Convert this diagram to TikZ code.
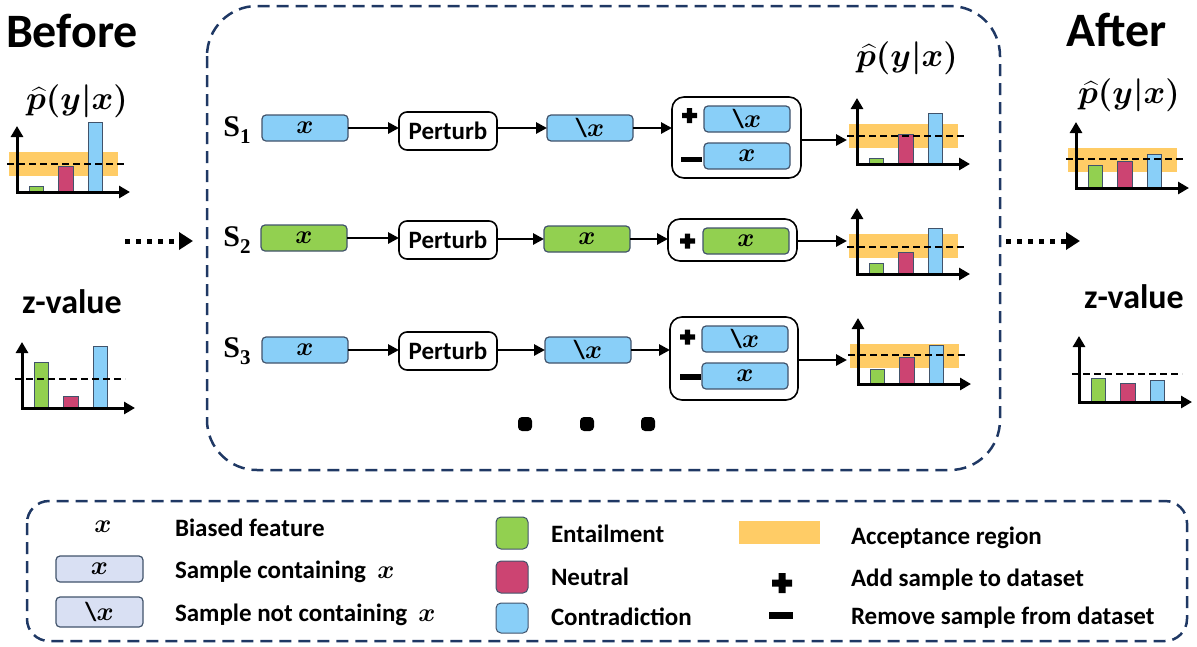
\RequirePackage{fix-cm}
\documentclass[tikz,border=0pt]{standalone}
\usepackage{amsmath}
\usepackage{bm}
\usepackage{fontspec}
\setmainfont{Carlito}
\newfontfamily\serifb{Liberation Serif}
\usetikzlibrary{arrows.meta}
\definecolor{cgreen}{HTML}{92D050}
\definecolor{cred}{HTML}{CC4472}
\definecolor{cblue}{HTML}{89CFF8}
\definecolor{corange}{HTML}{FFCC66}
\definecolor{navy}{HTML}{1F3864}
\definecolor{lav}{HTML}{D9E0F3}
\definecolor{bord}{HTML}{41536B}
\newcommand\phat{$\bm{\widehat{p}(y\vert x)}$}
\newcommand\bx{$\bm{x}$}
\newcommand\nbx{{\bfseries\textbackslash}$\bm{x}$}
\newcommand\sub[1]{{\serifb\bfseries S\raisebox{-0.22em}{\fontsize{21}{22}\selectfont #1}}}
\tikzset{
 every node/.style={inner sep=0pt, outer sep=0pt},
 txt/.style={font=\bfseries\fontsize{25}{30}\selectfont, anchor=base west},
 samp/.style={draw=bord, line width=1.2pt, rounded corners=4pt, minimum width=86pt, minimum height=26pt, font=\fontsize{26}{28}\selectfont},
 pert/.style={draw=black, line width=1.6pt, rounded corners=8pt, minimum width=98pt, minimum height=38pt, font=\bfseries\fontsize{25}{30}\selectfont},
 outerbox/.style={draw=black, line width=1.6pt, rounded corners=12pt},
 conn/.style={line width=2.8pt, -{Triangle[length=11pt,width=11pt]}},
 dotarrow/.style={line width=5pt, dash pattern=on 5pt off 6pt, -{Triangle[length=14pt,width=17pt]}},
 axis/.style={line width=3pt, {Triangle[length=11pt,width=12pt]}-{Triangle[length=11pt,width=12pt]}, line join=miter},
 dline/.style={line width=2.6pt, dash pattern=on 7pt off 4pt},
 bar/.style={draw=bord, line width=1pt},
 band/.style={fill=corange},
 frame/.style={draw=navy, line width=2.5pt, dash pattern=on 12pt off 7pt},
 slabel/.style={font=\fontsize{30}{34}\selectfont},
 plabel/.style={font=\fontsize{33}{36}\selectfont},
}
\newcommand\mychart[7]{%
 \begin{scope}[shift={(#1,#2)}]
  \ifnum#7=1 \fill[band] (-8,-16) rectangle (101,-40);\fi
  \draw[bar,fill=cgreen] (12,0) rectangle (26,-#3);
  \draw[bar,fill=cred] (41,0) rectangle (56,-#4);
  \draw[bar,fill=cblue] (71,0) rectangle (85,-#5);
  \ifnum#7=1 \draw[dline] (-10,-#6) -- (110,-#6);\else \draw[dline] (-7,-#6) -- (103,-#6);\fi
  \draw[axis] (0,-66) -- (0,0) -- (113,0);
 \end{scope}}
\newcommand\plussign[4]{\fill[shift={(#1,#2)}] (-#3,-#4) rectangle (#3,#4) (-#4,-#3) rectangle (#4,#3);}
\newcommand\minussign[4]{\fill[shift={(#1,#2)}] (-#3,-#4) rectangle (#3,#4);}
\begin{document}
\begin{tikzpicture}[x=1pt,y=-1pt]
\useasboundingbox (0,0) rectangle (1197,646);
% frames
\draw[frame, rounded corners=50pt] (207,6) rectangle (1000,470);
\draw[frame, rounded corners=22pt] (27,501) rectangle (1187,641);
% titles
\node[font=\bfseries\fontsize{48}{50}\selectfont, anchor=base west] (before) at (6,47) {Before};
\node[font=\bfseries\fontsize{48}{50}\selectfont, anchor=base west] (after) at (1066,46) {After};
\node[font=\bfseries\fontsize{34}{36}\selectfont, anchor=base west] (zl) at (22,313) {z-value};
\node[font=\bfseries\fontsize{34}{36}\selectfont, anchor=base west] (zr) at (1084,308) {z-value};
\node[plabel] (pl) at (77,101) {\phat};
\node[plabel] (pm) at (907,58) {\phat};
\node[plabel] (pr) at (1129,95) {\phat};
% charts
\mychart{17}{192}{6}{26}{70}{28}{1}
\mychart{857}{164}{6}{30}{51}{28}{1}
\mychart{857}{274}{11}{22}{46}{27}{1}
\mychart{858}{384}{15}{27}{39}{29}{1}
\mychart{1076}{188}{23}{27}{34}{29}{1}
\mychart{22}{408}{46}{12}{62}{29}{0}
\mychart{1079}{402}{24}{19}{22}{28}{0}
% dotted arrows
\coordinate (d1s) at (125,241);
\coordinate (d1e) at (193,241);
\coordinate (d2s) at (1006,241);
\coordinate (d2e) at (1080,241);
\draw[dotarrow] (d1s) -- (d1e);
\draw[dotarrow] (d2s) -- (d2e);
% row 1
\node[slabel] (s1) at (237,130) {\sub{1}};
\node[samp, fill=cblue] (x1) at (305,128) {\bx};
\node[pert] (p1) at (448,131) {Perturb};
\node[samp, fill=cblue] (n1) at (590,128) {\nbx};
\node[outerbox, minimum width=129pt, minimum height=81pt] (o1) at (736.5,137.5) {};
\node[samp, fill=cblue] (a1) at (747,119) {\nbx};
\node[samp, fill=cblue] (b1) at (747,156) {\bx};
\plussign{689.5}{115.5}{7.5}{2.7}
\minussign{691.5}{159.5}{10.5}{2.7}
\coordinate (c1) at (847,140);
\draw[conn] (x1.east) -- (x1.east -| p1.west);
\draw[conn] (p1.east |- n1) -- (n1.west);
\draw[conn] (n1.east) -- (n1.east -| o1.west);
\draw[conn] (o1.east |- c1) -- (c1);
% row 2
\node[slabel] (s2) at (237,240) {\sub{2}};
\node[samp, fill=cgreen] (x2) at (304,238) {\bx};
\node[pert] (p2) at (448,240) {Perturb};
\node[samp, fill=cgreen] (n2) at (587,239) {\bx};
\node[outerbox, minimum width=129pt, minimum height=42pt] (o2) at (732.5,240) {};
\node[samp, fill=cgreen] (a2) at (746,241) {\bx};
\plussign{687.5}{241}{7.5}{2.7}
\coordinate (c2) at (847,241);
\draw[conn] (x2.east) -- (x2.east -| p2.west);
\draw[conn] (p2.east |- n2) -- (n2.west);
\draw[conn] (n2.east) -- (n2.east -| o2.west);
\draw[conn] (o2.east |- c2) -- (c2);
% row 3
\node[slabel] (s3) at (237,351) {\sub{3}};
\node[samp, fill=cblue] (x3) at (305,350) {\bx};
\node[pert] (p3) at (448,351) {Perturb};
\node[samp, fill=cblue] (n3) at (588,350) {\nbx};
\node[outerbox, minimum width=128pt, minimum height=83pt] (o3) at (734,358.5) {};
\node[samp, fill=cblue] (a3) at (745,339) {\nbx};
\node[samp, fill=cblue] (b3) at (745,376) {\bx};
\plussign{687.5}{337}{7.5}{2.7}
\minussign{690}{377}{10.5}{2.7}
\coordinate (c3) at (847,360);
\draw[conn] (x3.east) -- (x3.east -| p3.west);
\draw[conn] (p3.east |- n3) -- (n3.west);
\draw[conn] (n3.east) -- (n3.east -| o3.west);
\draw[conn] (o3.east |- c3) -- (c3);
% dots
\fill[rounded corners=4pt] (518,417) rectangle (532,431);
\fill[rounded corners=4pt] (580,417) rectangle (594,431);
\fill[rounded corners=4pt] (641,417) rectangle (655,431);
% legend left
\node[font=\fontsize{26}{28}\selectfont] (lx) at (103,527) {\bx};
\node[txt] (t1) at (175,536) {Biased feature};
\node[samp, fill=lav, minimum width=87pt] (lb1) at (99.5,569) {\bx};
\node[txt] (t2) at (175,578) {Sample containing\ \ {\fontsize{26}{28}\selectfont\bx}};
\node[samp, fill=lav, minimum width=87pt, minimum height=30pt] (lb2) at (99.5,612) {\nbx};
\node[txt] (t3) at (175,621) {Sample not containing\ \ {\fontsize{26}{28}\selectfont\bx}};
% legend middle
\node[draw=bord, line width=1pt, rounded corners=5pt, fill=cgreen, minimum width=32pt, minimum height=32pt] (lg) at (512,533) {};
\node[draw=bord, line width=1pt, rounded corners=5pt, fill=cred, minimum width=32pt, minimum height=32pt] (lr) at (512,577) {};
\node[draw=bord, line width=1pt, rounded corners=5pt, fill=cblue, minimum width=32pt, minimum height=30pt] (lbl) at (512,618) {};
\node[txt] (t4) at (551,542) {Entailment};
\node[txt] (t5) at (551,585) {Neutral};
\node[txt] (t6) at (551,625) {Contradiction};
% legend right
\fill[corange] (739,521) rectangle (820,544);
\node[txt] (t7) at (851,544) {Acceptance region};
\plussign{782}{583}{10}{3.5}
\minussign{781}{615}{12}{3.5}
\node[txt] (t8) at (851,586) {Add sample to dataset};
\node[txt] (t9) at (851,624) {Remove sample from dataset};
\end{tikzpicture}
\end{document}
